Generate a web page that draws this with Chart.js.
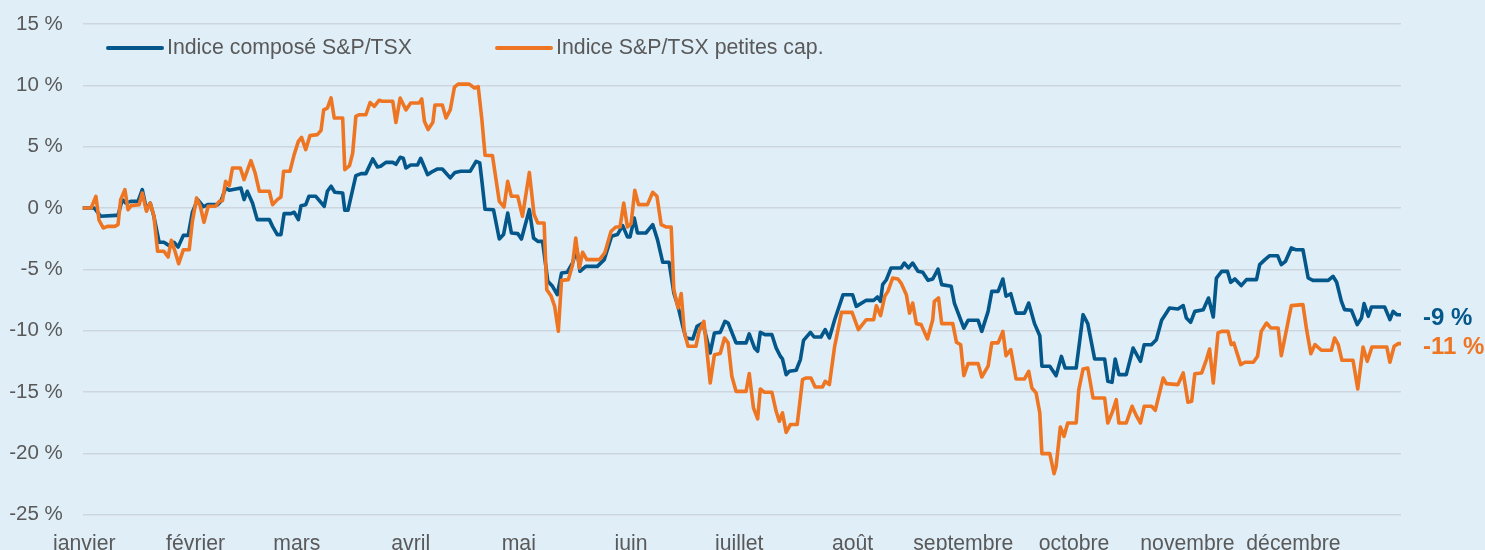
<!DOCTYPE html>
<html lang="fr">
<head>
<meta charset="utf-8">
<title>Indice composé S&P/TSX et petites cap.</title>
<script src="https://cdn.jsdelivr.net/npm/chart.js@4.4.1/dist/chart.umd.min.js"></script>
<style>
  html, body { margin: 0; padding: 0; background: #e0eef8; }
  canvas { display: block; }
</style>
</head>
<body>
<canvas id="chart" width="1485" height="550"></canvas>
<script>
// month labels sit at the first trading day of each month (day index, 251 trading days)
const monthNames = ["janvier", "février", "mars", "avril", "mai", "juin", "juillet", "août", "septembre", "octobre", "novembre", "décembre"];
const monthTickDays = [0.3, 21.4, 40.6, 62.2, 82.7, 104, 124.5, 146, 167, 188, 209.5, 229.6];

// [trading day, cumulative return %]
const compositeTsx = [
  [0,0],[2.2,0],[3.4,-0.68],[6.3,-0.6],[6.7,-0.6],[7.5,0.68],[8.2,0.4],[9.1,0.54],[10.5,0.54],[11.3,1.5],
  [12.1,-0.14],[12.8,0.4],[13.5,-0.68],[14.5,-2.8],[15.4,-2.8],[16.4,-3.07],[17.3,-2.8],[18.1,-3.18],[19.1,-2.23],[20,-2.23],
  [20.8,-0.35],[21.8,0.68],[22.9,0.1],[23.7,0.27],[25.6,0.27],[26.2,0.54],[27.1,1.63],[27.8,1.44],[30,1.63],[30.6,0.68],
  [31.2,1.36],[32.2,0.4],[33.1,-0.95],[35.4,-0.95],[36,-1.5],[36.9,-2.17],[37.6,-2.17],[38.2,-0.46],[39.5,-0.46],[40.1,-0.35],
  [40.9,-0.95],[41.4,0.19],[42.3,0.27],[42.9,0.95],[44.2,0.95],[45.8,0.14],[46.4,1.36],[47.1,1.77],[47.8,1.28],[49.3,1.22],
  [49.7,-0.19],[50.3,-0.19],[51.8,2.64],[52.8,2.8],[53.7,2.8],[55,4.0],[55.9,3.34],[56.5,3.4],[57.5,3.72],[58.8,3.72],
  [59.4,3.56],[60.2,4.13],[60.8,4.05],[61.3,3.26],[62.2,3.5],[63.5,3.5],[64.1,4.05],[65.4,2.72],[66.4,2.99],[67.3,3.18],
  [68.2,3.18],[69.7,2.45],[70.6,2.9],[71.7,3.0],[73.5,3.0],[74.6,3.8],[75.3,3.67],[75.7,2.2],[76.3,-0.1],[77.9,-0.14],
  [79,-2.53],[79.8,-2.17],[80.6,-0.41],[81.3,-2.04],[82.5,-2.09],[83.2,-2.53],[84.7,-0.14],[85.5,-2.45],[86.3,-2.72],[87.2,-2.72],
  [88.2,-5.98],[89.1,-6.39],[90,-7.07],[90.8,-5.3],[91.9,-5.24],[92.9,-4.48],[93.7,-3.34],[94.3,-5.16],[95.4,-4.76],[97.6,-4.76],
  [98.9,-4.21],[100.3,-2.31],[101.4,-2.17],[102.4,-1.44],[103.3,-2.36],[103.8,-2.36],[104.6,-0.82],[105.2,-2.04],[106.8,-2.04],[108.1,-1.36],
  [109,-2.58],[110,-4.43],[111.2,-4.43],[112.1,-6.93],[112.9,-8.02],[113.8,-9.65],[114.4,-10.6],[115.7,-10.68],[116.5,-9.65],[117.6,-9.38],
  [119,-11.82],[119.8,-10.19],[120.9,-10.14],[121.8,-9.24],[122.4,-9.38],[123.9,-11.0],[125.8,-11.0],[126.4,-10.27],[127.4,-11.41],[128,-11.68],
  [128.5,-10.14],[129.4,-10.33],[130.7,-10.33],[131.5,-11.41],[132.3,-12.09],[132.7,-12.3],[133.4,-13.59],[134,-13.32],[135.3,-13.23],[136.1,-12.36],
  [136.7,-10.79],[138,-10.14],[138.7,-10.52],[140,-10.52],[140.8,-9.92],[141.6,-10.6],[142.6,-9.11],[144.2,-7.07],[146,-7.07],[146.7,-8.02],
  [148.6,-7.53],[150,-7.53],[150.7,-7.26],[151.3,-7.61],[151.7,-6.25],[152.4,-5.85],[153.3,-4.89],[155.2,-4.89],[155.8,-4.49],[156.6,-4.89],
  [157.4,-4.49],[158.4,-5.16],[159.3,-5.25],[160.3,-5.9],[161.2,-5.79],[162.2,-4.98],[162.9,-6.25],[164.7,-6.39],[165.3,-7.75],[167.1,-9.79],
  [167.9,-9.16],[169.8,-9.16],[170.5,-10.06],[171.7,-8.43],[172.4,-6.8],[173.6,-6.8],[174.5,-5.79],[175.1,-7.2],[176,-6.99],[177,-8.57],
  [178.6,-8.57],[179.4,-7.75],[180.5,-9.43],[181.5,-10.41],[181.9,-12.9],[183.4,-12.9],[184.6,-13.67],[185.6,-12.1],[186.3,-13.05],[188.4,-13.05],
  [189.1,-10.74],[189.7,-8.7],[190.6,-9.43],[191.9,-12.31],[193.8,-12.31],[194.4,-14.13],[195.2,-14.22],[195.8,-12.31],[196.5,-13.59],[197.9,-13.59],
  [199.2,-11.42],[200.6,-12.5],[201.3,-11.15],[202.7,-11.14],[203.6,-10.74],[204.6,-9.16],[205.5,-8.56],[206.1,-8.15],[207.7,-8.24],[208.7,-7.96],
  [209.3,-8.97],[210.1,-9.32],[210.9,-8.43],[212.5,-8.29],[213.5,-7.34],[214.4,-8.89],[215,-5.71],[216,-5.17],[217.1,-5.17],[217.7,-6.06],
  [218.5,-5.79],[219.7,-6.33],[220.7,-5.84],[222.6,-5.84],[223.2,-4.62],[224.2,-4.21],[225.1,-3.89],[226.6,-3.89],[227.3,-4.62],[228.1,-4.35],
  [229.2,-3.26],[230,-3.4],[231.4,-3.4],[232.4,-5.71],[233.3,-5.9],[236.2,-5.9],[237.1,-5.57],[237.8,-6.06],[238.7,-7.61],[239.3,-8.29],
  [240.6,-8.34],[241.7,-9.51],[242.5,-8.97],[243,-7.8],[243.8,-8.83],[244.4,-8.07],[246.9,-8.07],[247.9,-9.1],[248.5,-8.43],[249.2,-8.7],
  [250,-8.7]
];

const smallCapTsx = [
  [0,0],[1.6,0],[2.5,0.95],[3.1,-1.0],[3.9,-1.63],[4.7,-1.5],[6.1,-1.5],[6.7,-1.36],[7.2,0.68],[8,1.5],
  [8.6,-0.14],[9.2,0.19],[10.7,0.27],[11.3,1.22],[12.1,-0.27],[12.8,0.4],[13.5,-0.63],[14.2,-3.53],[15.4,-3.53],[16.2,-4.0],
  [16.8,-2.64],[17.5,-3.53],[18.2,-4.54],[19.1,-3.4],[20.2,-3.4],[20.8,-1.09],[21.6,0.82],[22.3,0.14],[23,-1.17],[23.8,0.14],
  [25.2,0.14],[25.9,0.54],[26.5,0.6],[27.1,2.17],[27.8,1.82],[28.4,3.26],[29.9,3.26],[30.6,2.31],[31.9,3.86],[32.7,2.85],
  [33.5,1.36],[35.4,1.36],[36,0.27],[36.9,0.68],[37.6,0.9],[38.1,2.99],[39.3,2.99],[40.1,4.35],[40.9,5.43],[41.5,5.76],
  [42.3,4.76],[43.1,5.9],[44.5,5.98],[45.2,6.33],[45.7,8.0],[46.4,8.15],[47.1,8.97],[47.7,7.34],[49.3,7.34],[49.7,3.13],
  [50.6,3.45],[51.2,4.48],[51.8,7.47],[52.4,7.6],[53.7,7.6],[54.5,8.6],[55.3,8.29],[56.2,8.78],[56.8,8.7],[58.8,8.7],
  [59.4,6.98],[60.2,8.97],[61.3,8.0],[62.2,8.56],[63.8,8.56],[64.3,8.89],[64.8,7.07],[65.5,6.39],[66.4,6.98],[66.8,8.4],
  [68.2,8.4],[68.9,7.34],[69.7,8.0],[70.5,9.86],[71.2,10.1],[73.3,10.1],[74.3,9.78],[75,9.9],[75.7,7.2],[76.3,4.3],
  [77.7,4.27],[79,0.54],[79.9,0.08],[80.6,2.17],[81.3,0.95],[82.5,0.95],[83.4,-0.68],[84.7,2.9],[85.6,-0.54],[86.3,-1.22],
  [87.5,-1.22],[88,-6.66],[88.8,-7.15],[89.5,-8.02],[90.2,-10.05],[90.8,-5.9],[92.1,-5.84],[92.9,-4.62],[93.5,-2.45],[94.2,-4.89],
  [94.8,-3.61],[95.6,-4.21],[98,-4.21],[99,-3.67],[100.2,-1.9],[101.1,-1.55],[101.9,-1.55],[102.6,0.41],[103.3,-1.55],[104,-1.28],
  [104.7,1.44],[105.4,0.27],[107.1,0.27],[108.1,1.28],[108.9,0.95],[109.7,-1.36],[110.6,-1.55],[111.6,-1.55],[112.1,-6.66],[112.9,-8.15],
  [113.5,-6.98],[114.1,-10.14],[114.8,-11.28],[116.3,-11.28],[116.9,-10.05],[117.8,-9.24],[119,-14.27],[119.8,-11.96],[120.9,-11.87],[121.7,-10.6],
  [122.4,-11.0],[123.1,-13.72],[123.9,-14.95],[125.8,-14.95],[126.4,-13.5],[127.2,-16.3],[128,-17.2],[128.5,-14.76],[129.3,-15.03],[130.7,-15.03],
  [131.5,-16.58],[132.1,-17.39],[132.7,-16.7],[133.4,-18.3],[134.2,-17.66],[135.5,-17.66],[136.5,-14.0],[137.2,-13.86],[138.1,-13.86],[138.9,-14.6],
  [140.3,-14.6],[140.8,-14.13],[141.6,-14.4],[142.6,-11.28],[143.9,-8.51],[145.9,-8.51],[147.1,-9.92],[148.6,-9.11],[150,-9.11],[150.5,-7.97],
  [151.3,-8.78],[152.1,-7.2],[152.7,-6.8],[153.6,-5.71],[154.6,-5.79],[155.2,-6.12],[156.2,-7.07],[156.8,-8.57],[157.4,-7.75],[158.1,-9.43],
  [159,-9.51],[160.2,-10.68],[161.2,-9.11],[161.5,-7.61],[162.3,-7.34],[162.9,-9.43],[165,-9.43],[165.7,-10.95],[166.5,-11.15],[167.1,-13.67],
  [167.9,-12.69],[169.8,-12.69],[170.5,-13.78],[171.7,-12.9],[172.4,-11.0],[173.6,-11.0],[174.5,-10.06],[175.1,-12.04],[176,-11.55],[177,-13.94],
  [178.6,-13.94],[179.4,-13.32],[180,-14.68],[180.8,-15.08],[181.5,-16.7],[181.9,-20.03],[183.4,-20.03],[184.2,-21.66],[184.6,-21.06],[185.4,-17.86],
  [186.1,-18.62],[186.8,-17.53],[188.4,-17.53],[188.9,-14.81],[189.7,-13.13],[190.6,-13.05],[191.6,-15.49],[193.8,-15.49],[194.4,-17.53],[195.2,-16.71],
  [196,-15.63],[196.5,-17.53],[197.9,-17.53],[199,-16.17],[199.8,-16.93],[200.6,-17.53],[201.3,-16.17],[202.7,-16.17],[203.4,-16.5],[204.9,-13.86],
  [205.5,-14.32],[207.7,-14.4],[208.7,-13.45],[209.6,-15.84],[210.3,-15.76],[210.9,-13.51],[212.2,-13.45],[213.1,-12.36],[213.7,-11.5],[214.4,-14.27],
  [215.3,-10.19],[216,-10.06],[217.2,-10.06],[217.8,-11.14],[218.3,-11.01],[219.6,-12.77],[220.4,-12.58],[222,-12.58],[222.8,-12.09],[223.5,-10.06],
  [224.5,-9.38],[225.3,-9.78],[226.7,-9.78],[227.3,-12.04],[229.2,-7.96],[231.4,-7.88],[232.1,-9.92],[232.9,-11.88],[233.7,-11.14],[234.9,-11.6],
  [236.8,-11.6],[237.4,-10.6],[238.1,-11.14],[238.8,-12.42],[240.9,-12.42],[241.8,-14.76],[242.8,-11.33],[243.6,-12.5],[244.5,-11.33],[247.3,-11.33],
  [247.9,-12.58],[248.7,-11.28],[249.5,-11.06],[250,-11.06]
];

const BLUE = "#03578a";
const ORANGE = "#ee7623";
const TEXT = "#595959";
const FONT = "'Liberation Sans', Arial, sans-serif";

const toPoints = arr => arr.map(([d, v]) => ({ x: d, y: v }));

// legend drawn over the plot area, like the original
const overlayLegend = {
  id: "overlayLegend",
  afterDatasetsDraw(chart) {
    const ctx = chart.ctx;
    const y = 48;
    let x = 108;
    ctx.save();
    ctx.font = "21.3px " + FONT;
    ctx.textBaseline = "middle";
    chart.data.datasets.forEach(ds => {
      ctx.strokeStyle = ds.borderColor;
      ctx.lineWidth = 4;
      ctx.lineCap = "round";
      ctx.beginPath();
      ctx.moveTo(x, y);
      ctx.lineTo(x + 54, y);
      ctx.stroke();
      ctx.fillStyle = TEXT;
      ctx.fillText(ds.label, x + 59, y);
      x += 59 + ctx.measureText(ds.label).width + 85;
    });
    ctx.restore();
  }
};

// final value labels at the right of each line
const endLabels = {
  id: "endLabels",
  afterDatasetsDraw(chart) {
    const ctx = chart.ctx;
    const yScale = chart.scales.y;
    ctx.save();
    ctx.font = "bold 24px " + FONT;
    ctx.textBaseline = "middle";
    chart.data.datasets.forEach(ds => {
      const last = ds.data[ds.data.length - 1];
      ctx.fillStyle = ds.borderColor;
      ctx.fillText(Math.round(last.y) + " %", chart.chartArea.right + 22, yScale.getPixelForValue(last.y) + 4);
    });
    ctx.restore();
  }
};

Chart.defaults.font.family = FONT;
Chart.defaults.font.size = 20;
Chart.defaults.color = TEXT;

new Chart(document.getElementById("chart").getContext("2d"), {
  type: "line",
  data: {
    datasets: [
      {
        label: "Indice composé S&P/TSX",
        data: toPoints(compositeTsx),
        borderColor: BLUE,
        borderWidth: 3.6,
        order: 1
      },
      {
        label: "Indice S&P/TSX petites cap.",
        data: toPoints(smallCapTsx),
        borderColor: ORANGE,
        borderWidth: 3.6,
        order: 0
      }
    ]
  },
  options: {
    responsive: false,
    animation: false,
    parsing: false,
    elements: {
      point: { radius: 0 },
      line: { tension: 0, borderJoinStyle: "round", borderCapStyle: "round" }
    },
    layout: { padding: { left: 10, right: 84, top: 24, bottom: 0 } },
    plugins: {
      legend: { display: false },
      tooltip: { enabled: false }
    },
    scales: {
      x: {
        type: "linear",
        min: 0,
        max: 250,
        grid: { display: false },
        border: { display: false },
        afterBuildTicks: axis => {
          axis.ticks = monthTickDays.map(v => ({ value: v }));
        },
        afterFit: axis => {
          axis.height = 35.4;
          axis.paddingLeft = 0;
          axis.paddingRight = 0;
        },
        ticks: {
          autoSkip: false,
          maxRotation: 0,
          padding: 9,
          font: { size: 21.2 },
          callback: (value, index) => monthNames[index]
        }
      },
      y: {
        min: -25,
        max: 15,
        grid: { color: "#cdd6df", lineWidth: 1.5, drawTicks: false },
        border: { display: false },
        afterFit: axis => {
          axis.width = 72.7;
          axis.paddingTop = 0;
          axis.paddingBottom = 0;
        },
        ticks: {
          stepSize: 5,
          padding: 20,
          font: { size: 20.5 },
          callback: value => value + " %"
        }
      }
    }
  },
  plugins: [overlayLegend, endLabels]
});
</script>
</body>
</html>
